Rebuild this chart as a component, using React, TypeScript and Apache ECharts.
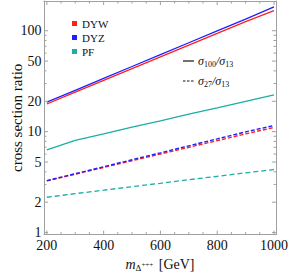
import React, { useEffect, useRef } from "react";
import * as echarts from "echarts";

const masses = [200, 300, 400, 500, 600, 700, 800, 900, 1000];
const dywSolid = [18.8, 24.6, 32.2, 42.1, 55.1, 72, 94, 123, 158];
const dyzSolid = [19.6, 25.7, 33.7, 44.2, 58, 76, 99.5, 130, 172];
const pfSolid = [6.6, 8.2, 9.5, 11.1, 12.8, 14.9, 17.2, 20.0, 23.2];
const dywDashed = [3.25, 3.79, 4.42, 5.15, 6.0, 7.0, 8.15, 9.5, 11.0];
const dyzDashed = [3.27, 3.83, 4.49, 5.27, 6.17, 7.24, 8.48, 9.95, 11.5];
const pfDashed = [2.24, 2.43, 2.63, 2.85, 3.08, 3.34, 3.61, 3.91, 4.21];

const xLabels = [200, 400, 600, 800, 1000];
const xMinorTicks = [250, 300, 350, 450, 500, 550, 650, 700, 750, 850, 900, 950];
const yLabels = [1, 2, 5, 10, 20, 50, 100];
const yMinorTicks = [3, 4, 6, 7, 8, 9, 30, 40, 60, 70, 80, 90];

const seriesNames = ["DYW", "DYZ", "PF"];
const seriesColors = ["#ff1f1f", "#1f1fff", "#1aaea6"];

const X_MIN = 190;
const X_MAX = 1007;
const Y_MIN = 0.955;
const Y_MAX = 197;

const FONT = "'Liberation Serif', 'DejaVu Serif', serif";
const AXIS_COLOR = "#a0a0a0";

export default function App() {
  const ref = useRef<HTMLDivElement>(null);
  useEffect(() => {
    if (!ref.current) return;
    const chart = echarts.init(ref.current, undefined, { renderer: "svg" });
    const pair = (arr: number[]) => masses.map((m, i) => [m, arr[i]]);

    const yTickData = [
      ...yLabels.map((v) => [X_MIN, v, 1]),
      ...yMinorTicks.map((v) => [X_MIN, v, 0]),
    ];
    const xTickData = [
      ...xLabels.map((v) => [v, 1, 1]),
      ...xMinorTicks.map((v) => [v, 1, 0]),
    ];

    const option: any = {
      animation: false,
      backgroundColor: "#ffffff",
      grid: { left: 44, right: 12, top: 1, bottom: 41, containLabel: false },
      xAxis: [
        {
          type: "value",
          min: X_MIN,
          max: X_MAX,
          position: "bottom",
          axisLine: { show: true, lineStyle: { color: AXIS_COLOR, width: 1 } },
          axisTick: { show: false },
          splitLine: { show: false },
          axisLabel: {
            show: true,
            customValues: xLabels,
            margin: 4,
            color: "#111",
            fontFamily: FONT,
            fontSize: 14,
            formatter: (v: number) => String(v),
          },
          name: "{i|m}{sub|Δ}{sup|+++} [GeV]",
          nameLocation: "middle",
          nameGap: 17,
          nameTextStyle: {
            color: "#111",
            fontFamily: FONT,
            fontSize: 14,
            rich: {
              i: { fontFamily: FONT, fontSize: 14, fontStyle: "italic", color: "#111" },
              sub: { fontFamily: FONT, fontSize: 9, color: "#111", padding: [6, 0, 0, 0] },
              sup: { fontFamily: FONT, fontSize: 7, color: "#111", padding: [0, 2, 0, 0] },
            },
          },
        },
        {
          type: "value",
          min: X_MIN,
          max: X_MAX,
          position: "top",
          axisLine: { show: true, lineStyle: { color: AXIS_COLOR, width: 1 } },
          axisTick: { show: false },
          splitLine: { show: false },
          axisLabel: { show: false },
        },
      ],
      yAxis: [
        {
          type: "log",
          min: Y_MIN,
          max: Y_MAX,
          position: "left",
          axisLine: { show: true, lineStyle: { color: AXIS_COLOR, width: 1 } },
          axisTick: { show: false },
          minorTick: { show: false },
          splitLine: { show: false },
          axisLabel: { show: false },
          name: "cross section ratio",
          nameLocation: "middle",
          nameRotate: 90,
          nameGap: 20,
          nameTextStyle: { color: "#111", fontFamily: FONT, fontSize: 15 },
        },
        {
          type: "log",
          min: Y_MIN,
          max: Y_MAX,
          position: "right",
          axisLine: { show: true, lineStyle: { color: AXIS_COLOR, width: 1 } },
          axisTick: { show: false },
          splitLine: { show: false },
          axisLabel: { show: false },
        },
      ],
      series: [
        {
          type: "custom",
          name: "yticks",
          silent: true,
          clip: false,
          data: yTickData,
          encode: { x: 0, y: 1 },
          renderItem: (params: any, api: any) => {
            const cs = params.coordSys;
            const v = api.value(1);
            const major = api.value(2) === 1;
            const y = api.coord([api.value(0), v])[1];
            const len = major ? 4 : 2.5;
            const st = { stroke: AXIS_COLOR, lineWidth: 1 };
            const children: any[] = [
              { type: "line", shape: { x1: cs.x, y1: y, x2: cs.x + len, y2: y }, style: st },
              { type: "line", shape: { x1: cs.x + cs.width - len, y1: y, x2: cs.x + cs.width, y2: y }, style: st },
            ];
            if (major) {
              children.push({
                type: "text",
                style: {
                  text: String(v),
                  x: cs.x - 2.5,
                  y: y,
                  align: "right",
                  verticalAlign: "middle",
                  fill: "#111",
                  font: `14px ${FONT}`,
                },
              });
            }
            return { type: "group", children };
          },
          z: 5,
        },
        {
          type: "custom",
          name: "xticks",
          silent: true,
          clip: false,
          data: xTickData,
          encode: { x: 0, y: 1 },
          renderItem: (params: any, api: any) => {
            const cs = params.coordSys;
            const major = api.value(2) === 1;
            const x = api.coord([api.value(0), api.value(1)])[0];
            const len = major ? 4 : 2.5;
            const st = { stroke: AXIS_COLOR, lineWidth: 1 };
            return {
              type: "group",
              children: [
                { type: "line", shape: { x1: x, y1: cs.y + cs.height, x2: x, y2: cs.y + cs.height - len }, style: st },
                { type: "line", shape: { x1: x, y1: cs.y, x2: x, y2: cs.y + len }, style: st },
              ],
            };
          },
          z: 5,
        },
        {
          type: "line",
          name: "PF",
          data: pair(pfDashed),
          showSymbol: false,
          symbol: "none",
          lineStyle: { color: seriesColors[2], width: 1.3, type: [5, 3] },
          z: 3,
        },
        {
          type: "line",
          name: "DYW dashed",
          data: pair(dywDashed),
          showSymbol: false,
          symbol: "none",
          lineStyle: { color: seriesColors[0], width: 1.4, type: [4, 2] },
          z: 3,
        },
        {
          type: "line",
          name: "DYZ dashed",
          data: pair(dyzDashed),
          showSymbol: false,
          symbol: "none",
          lineStyle: { color: seriesColors[1], width: 1.4, type: [4, 2] },
          z: 3,
        },
        {
          type: "line",
          name: "PF solid",
          data: pair(pfSolid),
          showSymbol: false,
          symbol: "none",
          lineStyle: { color: seriesColors[2], width: 1.3 },
          z: 3,
        },
        {
          type: "line",
          name: "DYW",
          data: pair(dywSolid),
          showSymbol: false,
          symbol: "none",
          lineStyle: { color: seriesColors[0], width: 1.3 },
          z: 3,
        },
        {
          type: "line",
          name: "DYZ",
          data: pair(dyzSolid),
          showSymbol: false,
          symbol: "none",
          lineStyle: { color: seriesColors[1], width: 1.3 },
          z: 3,
        },
      ],
      graphic: [
        ...seriesNames.map((name, i) => ({
          type: "group",
          left: 72,
          top: 18 + i * 14,
          children: [
            { type: "rect", shape: { x: 0, y: 1.5, width: 5, height: 5 }, style: { fill: seriesColors[i] } },
            {
              type: "text",
              x: 10,
              y: 4,
              style: {
                text: name,
                fill: "#111",
                font: `11px ${FONT}`,
                verticalAlign: "middle",
              },
            },
          ],
        })),
        {
          type: "line",
          shape: { x1: 183, y1: 61, x2: 194, y2: 61 },
          style: { stroke: "#111", lineWidth: 1.2 },
        },
        {
          type: "line",
          shape: { x1: 183, y1: 81, x2: 194, y2: 81 },
          style: { stroke: "#111", lineWidth: 1.2, lineDash: [2.5, 1.5] },
        },
        {
          type: "text",
          x: 198,
          y: 61,
          style: {
            text: "{i|σ}{s|100}{n|/}{i|σ}{s|13}",
            verticalAlign: "middle",
            rich: {
              i: { fontFamily: FONT, fontSize: 12, fontStyle: "italic", fill: "#111" },
              n: { fontFamily: FONT, fontSize: 12, fontStyle: "italic", fill: "#111" },
              s: { fontFamily: FONT, fontSize: 8, fill: "#111", padding: [6, 0, 0, 0] },
            },
          },
        },
        {
          type: "text",
          x: 198,
          y: 81,
          style: {
            text: "{i|σ}{s|27}{n|/}{i|σ}{s|13}",
            verticalAlign: "middle",
            rich: {
              i: { fontFamily: FONT, fontSize: 12, fontStyle: "italic", fill: "#111" },
              n: { fontFamily: FONT, fontSize: 12, fontStyle: "italic", fill: "#111" },
              s: { fontFamily: FONT, fontSize: 8, fill: "#111", padding: [6, 0, 0, 0] },
            },
          },
        },
      ],
    };
    chart.setOption(option);
    return () => chart.dispose();
  }, []);
  return (
    <div
      ref={ref}
      style={{ position: "absolute", left: 0, top: 0, width: 291, height: 277 }}
    />
  );
}
